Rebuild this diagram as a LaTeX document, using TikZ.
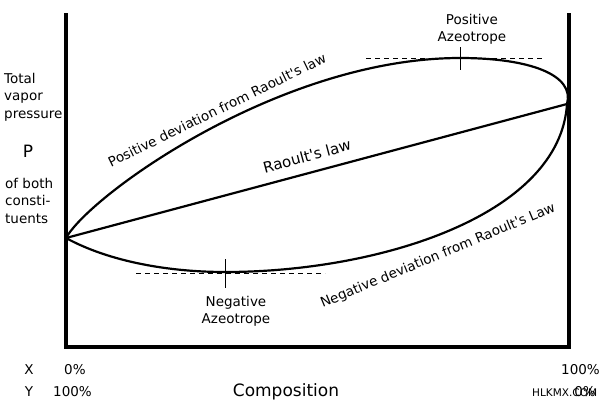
\documentclass[tikz,border=0pt]{standalone}
\usepackage{fontspec}
\setmainfont{DejaVu Sans}
\usepackage{tikz}
\newcommand{\ap}{\textquotesingle}

\begin{document}
\begin{tikzpicture}[x=1pt,y=-1pt]
\tikzset{every node/.style={inner sep=0pt, font=\fontsize{13.5}{17.5}\selectfont},
  wall/.style={black, line width=4pt},
  curve/.style={black, line width=2.2pt},
  guide/.style={black, line width=0.8pt, dash pattern=on 5pt off 4pt},
  tick/.style={black, line width=0.8pt}}
\useasboundingbox (0,0) rectangle (600,400);
\fill [white] (0,0) rectangle (600,400);
\draw [wall] (66,13) -- (66,347) -- (569,347) -- (569,13);
\coordinate (A) at (66,238);
\coordinate (B) at (567,104);
\coordinate (ptop) at (460,58);
\coordinate (nbot) at (225,272);
\draw [curve] (A) .. controls (90,195) and (280,58) .. (ptop);
\draw [curve] (ptop) .. controls (530,58) and (575,75) .. (B);
\draw [curve] (A) .. controls (110,262) and (170,272) .. (nbot);
\draw [curve] (nbot) .. controls (380,272) and (560,215) .. (B);
\draw [curve] (A) -- (B);
\draw [guide] (366,58) -- (543,58);
\draw [tick] (460,47) -- (460,70);
\draw [guide] (136,273) -- (325,273);
\draw [tick] (225,259) -- (225,288);
\node (posaz) [align=center, anchor=north] at (472,14) {Positive\\Azeotrope};
\node (negaz) [align=center, anchor=north] at (236,296) {Negative\\Azeotrope};
\node (posdev) [rotate=26] at (217,110) {Positive deviation from Raoult\ap s law};
\node (raoult) [rotate=15, font=\fontsize{15}{17}\selectfont] at (307,156) {Raoult\ap s law};
\node (negdev) [rotate=22.6] at (438,256) {Negative deviation from Raoult\ap s Law};
\node (total) [align=left, anchor=north west] at (4,73) {Total\\vapor\\pressure};
\node (pp) [font=\fontsize{17}{19}\selectfont] at (28,151) {P};
\node (both) [align=left, anchor=north west] at (5,178) {of both\\consti-\\tuents};
\node (xl) at (29,370) {X};
\node (yl) at (29,392) {Y};
\node (x0) [anchor=west] at (64,370) {0\%};
\node (x100) [anchor=east] at (600,370) {100\%};
\node (y100) [anchor=west] at (53,392) {100\%};
\node (comp) [font=\fontsize{17}{19}\selectfont] at (286,391.5) {Composition};
\node (y0) [anchor=east] at (596,392) {0\%};
\node (mark) [anchor=west, font=\fontsize{10.5}{12}\selectfont] at (532,393) {HLKMX.COM};
\end{tikzpicture}
\end{document}
